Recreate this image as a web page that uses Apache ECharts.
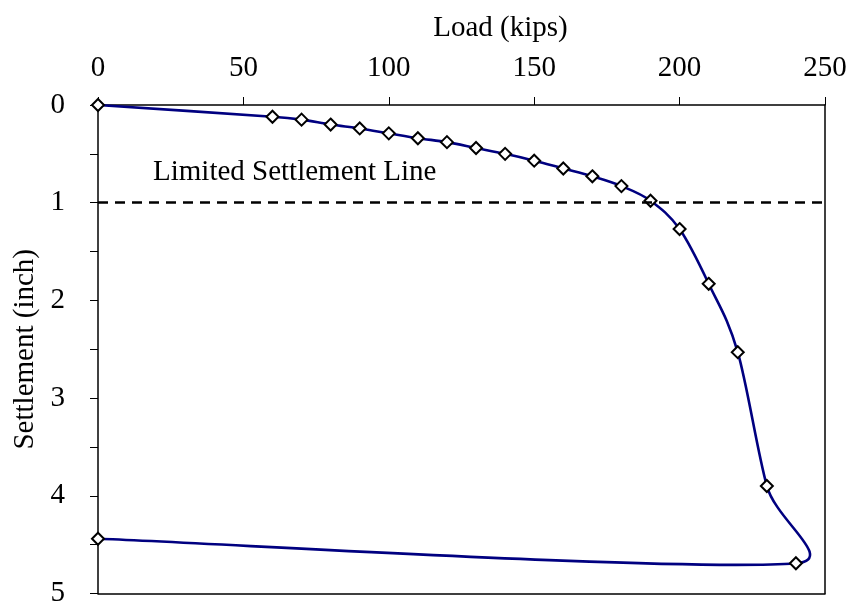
<!DOCTYPE html>
<html>
<head>
<meta charset="utf-8">
<script src="https://cdn.jsdelivr.net/npm/echarts@6/dist/echarts.min.js"></script>
<style>
  html, body { margin: 0; padding: 0; background: #fff; }
  #chart { width: 852px; height: 608px; }
</style>
</head>
<body>
<div id="chart"></div>
<script>
// Load test readings: applied load (kips) and measured settlement (inch)
const loadKips = [0, 60, 70, 80, 90, 100, 110, 120, 130, 140, 150, 160, 170, 180, 190, 200, 210, 220, 230, 240, 0];
const settlementInch = [0, 0.12, 0.15, 0.20, 0.24, 0.29, 0.34, 0.38, 0.44, 0.50, 0.57, 0.65, 0.73, 0.83, 0.98, 1.27, 1.83, 2.53, 3.90, 4.69, 4.44];

// Allowable settlement criterion
const limitSettlement = 1;
const limitLabel = 'Limited Settlement Line';

// Axis ranges and tick steps
const loadMin = 0, loadMax = 250, loadStep = 50;
const settleMin = 0, settleMax = 5, settleStep = 0.5;

const FONT = '"Liberation Serif", "Times New Roman", serif';
const FS = 29;
const chart = echarts.init(document.getElementById('chart'));

const curve = loadKips.map((x, i) => [x, settlementInch[i]]);

// Cubic Bezier spline through the screen points. The tangent at each point
// follows the chord between its neighbours, shortened on short segments.
function splinePath(pts) {
  const n = pts.length;
  const dist = (a, b) => Math.hypot(b[0] - a[0], b[1] - a[1]);
  const tension = 1 / 6;
  let d = 'M' + pts[0][0] + ' ' + pts[0][1];
  for (let i = 0; i < n - 1; i++) {
    const p0 = pts[Math.max(i - 1, 0)];
    const p1 = pts[i];
    const p2 = pts[i + 1];
    const p3 = pts[Math.min(i + 2, n - 1)];
    const seg = dist(p1, p2);
    const chordA = dist(p0, p2) || 1;
    const chordB = dist(p1, p3) || 1;
    const fa = Math.min(tension, 0.5 * seg / chordA);
    const fb = Math.min(tension, 0.5 * seg / chordB);
    const c1 = [p1[0] + (p2[0] - p0[0]) * fa, p1[1] + (p2[1] - p0[1]) * fa];
    const c2 = [p2[0] - (p3[0] - p1[0]) * fb, p2[1] - (p3[1] - p1[1]) * fb];
    d += ' C' + c1[0] + ' ' + c1[1] + ' ' + c2[0] + ' ' + c2[1] + ' ' + p2[0] + ' ' + p2[1];
  }
  return d;
}

chart.setOption({
  backgroundColor: '#ffffff',
  animation: false,
  grid: { left: 98, right: 27, top: 105, bottom: 12, containLabel: false },
  xAxis: [{
    type: 'value',
    position: 'top',
    min: loadMin, max: loadMax, interval: loadStep,
    name: 'Load (kips)',
    nameLocation: 'middle',
    nameGap: 62,
    nameTextStyle: { fontFamily: FONT, fontSize: FS, color: '#000', padding: [0, 0, 0, 78] },
    axisLine: { show: true, onZero: false, lineStyle: { color: '#000', width: 1.5 } },
    axisTick: { show: true, inside: false, length: 8, lineStyle: { color: '#000', width: 1 } },
    axisLabel: { fontFamily: FONT, fontSize: FS, color: '#000', margin: 22 },
    splitLine: { show: false }
  }, {
    type: 'value',
    position: 'bottom',
    min: loadMin, max: loadMax,
    axisLine: { show: true, onZero: false, lineStyle: { color: '#000', width: 1.5 } },
    axisTick: { show: false },
    axisLabel: { show: false },
    splitLine: { show: false }
  }],
  yAxis: [{
    type: 'value',
    inverse: true,
    min: settleMin, max: settleMax, interval: settleStep,
    name: 'Settlement (inch)',
    nameLocation: 'middle',
    nameGap: 56,
    nameTextStyle: { fontFamily: FONT, fontSize: FS, color: '#000' },
    axisLine: { show: true, onZero: false, lineStyle: { color: '#000', width: 1.5 } },
    axisTick: { show: true, inside: false, length: 8, lineStyle: { color: '#000', width: 1 } },
    axisLabel: {
      fontFamily: FONT, fontSize: FS, color: '#000', margin: 33,
      formatter: v => (Number.isInteger(v) ? String(v) : '')
    },
    splitLine: { show: false }
  }, {
    type: 'value',
    position: 'right',
    inverse: true,
    min: settleMin, max: settleMax,
    axisLine: { show: true, onZero: false, lineStyle: { color: '#000', width: 1.5 } },
    axisTick: { show: false },
    axisLabel: { show: false },
    splitLine: { show: false }
  }],
  series: [{
    // smoothed load-settlement curve
    type: 'custom',
    xAxisIndex: 0,
    yAxisIndex: 0,
    data: curve,
    z: 2,
    silent: true,
    renderItem: (params, api) => {
      if (params.dataIndex !== 0) return null;
      const pts = curve.map(p => api.coord(p));
      return {
        type: 'path',
        shape: { pathData: splinePath(pts) },
        style: { fill: 'none', stroke: '#000080', lineWidth: 2.6 }
      };
    }
  }, {
    // measured points
    type: 'scatter',
    xAxisIndex: 0,
    yAxisIndex: 0,
    data: curve,
    symbol: 'diamond',
    symbolSize: 12,
    itemStyle: { color: '#ffffff', borderColor: '#000000', borderWidth: 2, opacity: 1 },
    z: 4,
    markLine: {
      silent: true,
      symbol: ['none', 'none'],
      lineStyle: { type: [10, 7], color: '#000', width: 2.5 },
      label: {
        show: true,
        position: 'insideStartTop',
        formatter: limitLabel,
        fontFamily: FONT,
        fontSize: FS,
        color: '#000',
        distance: [55, 16]
      },
      data: [[
        { coord: [loadMin, limitSettlement] },
        { coord: [loadMax, limitSettlement] }
      ]]
    }
  }]
});
</script>
</body>
</html>
